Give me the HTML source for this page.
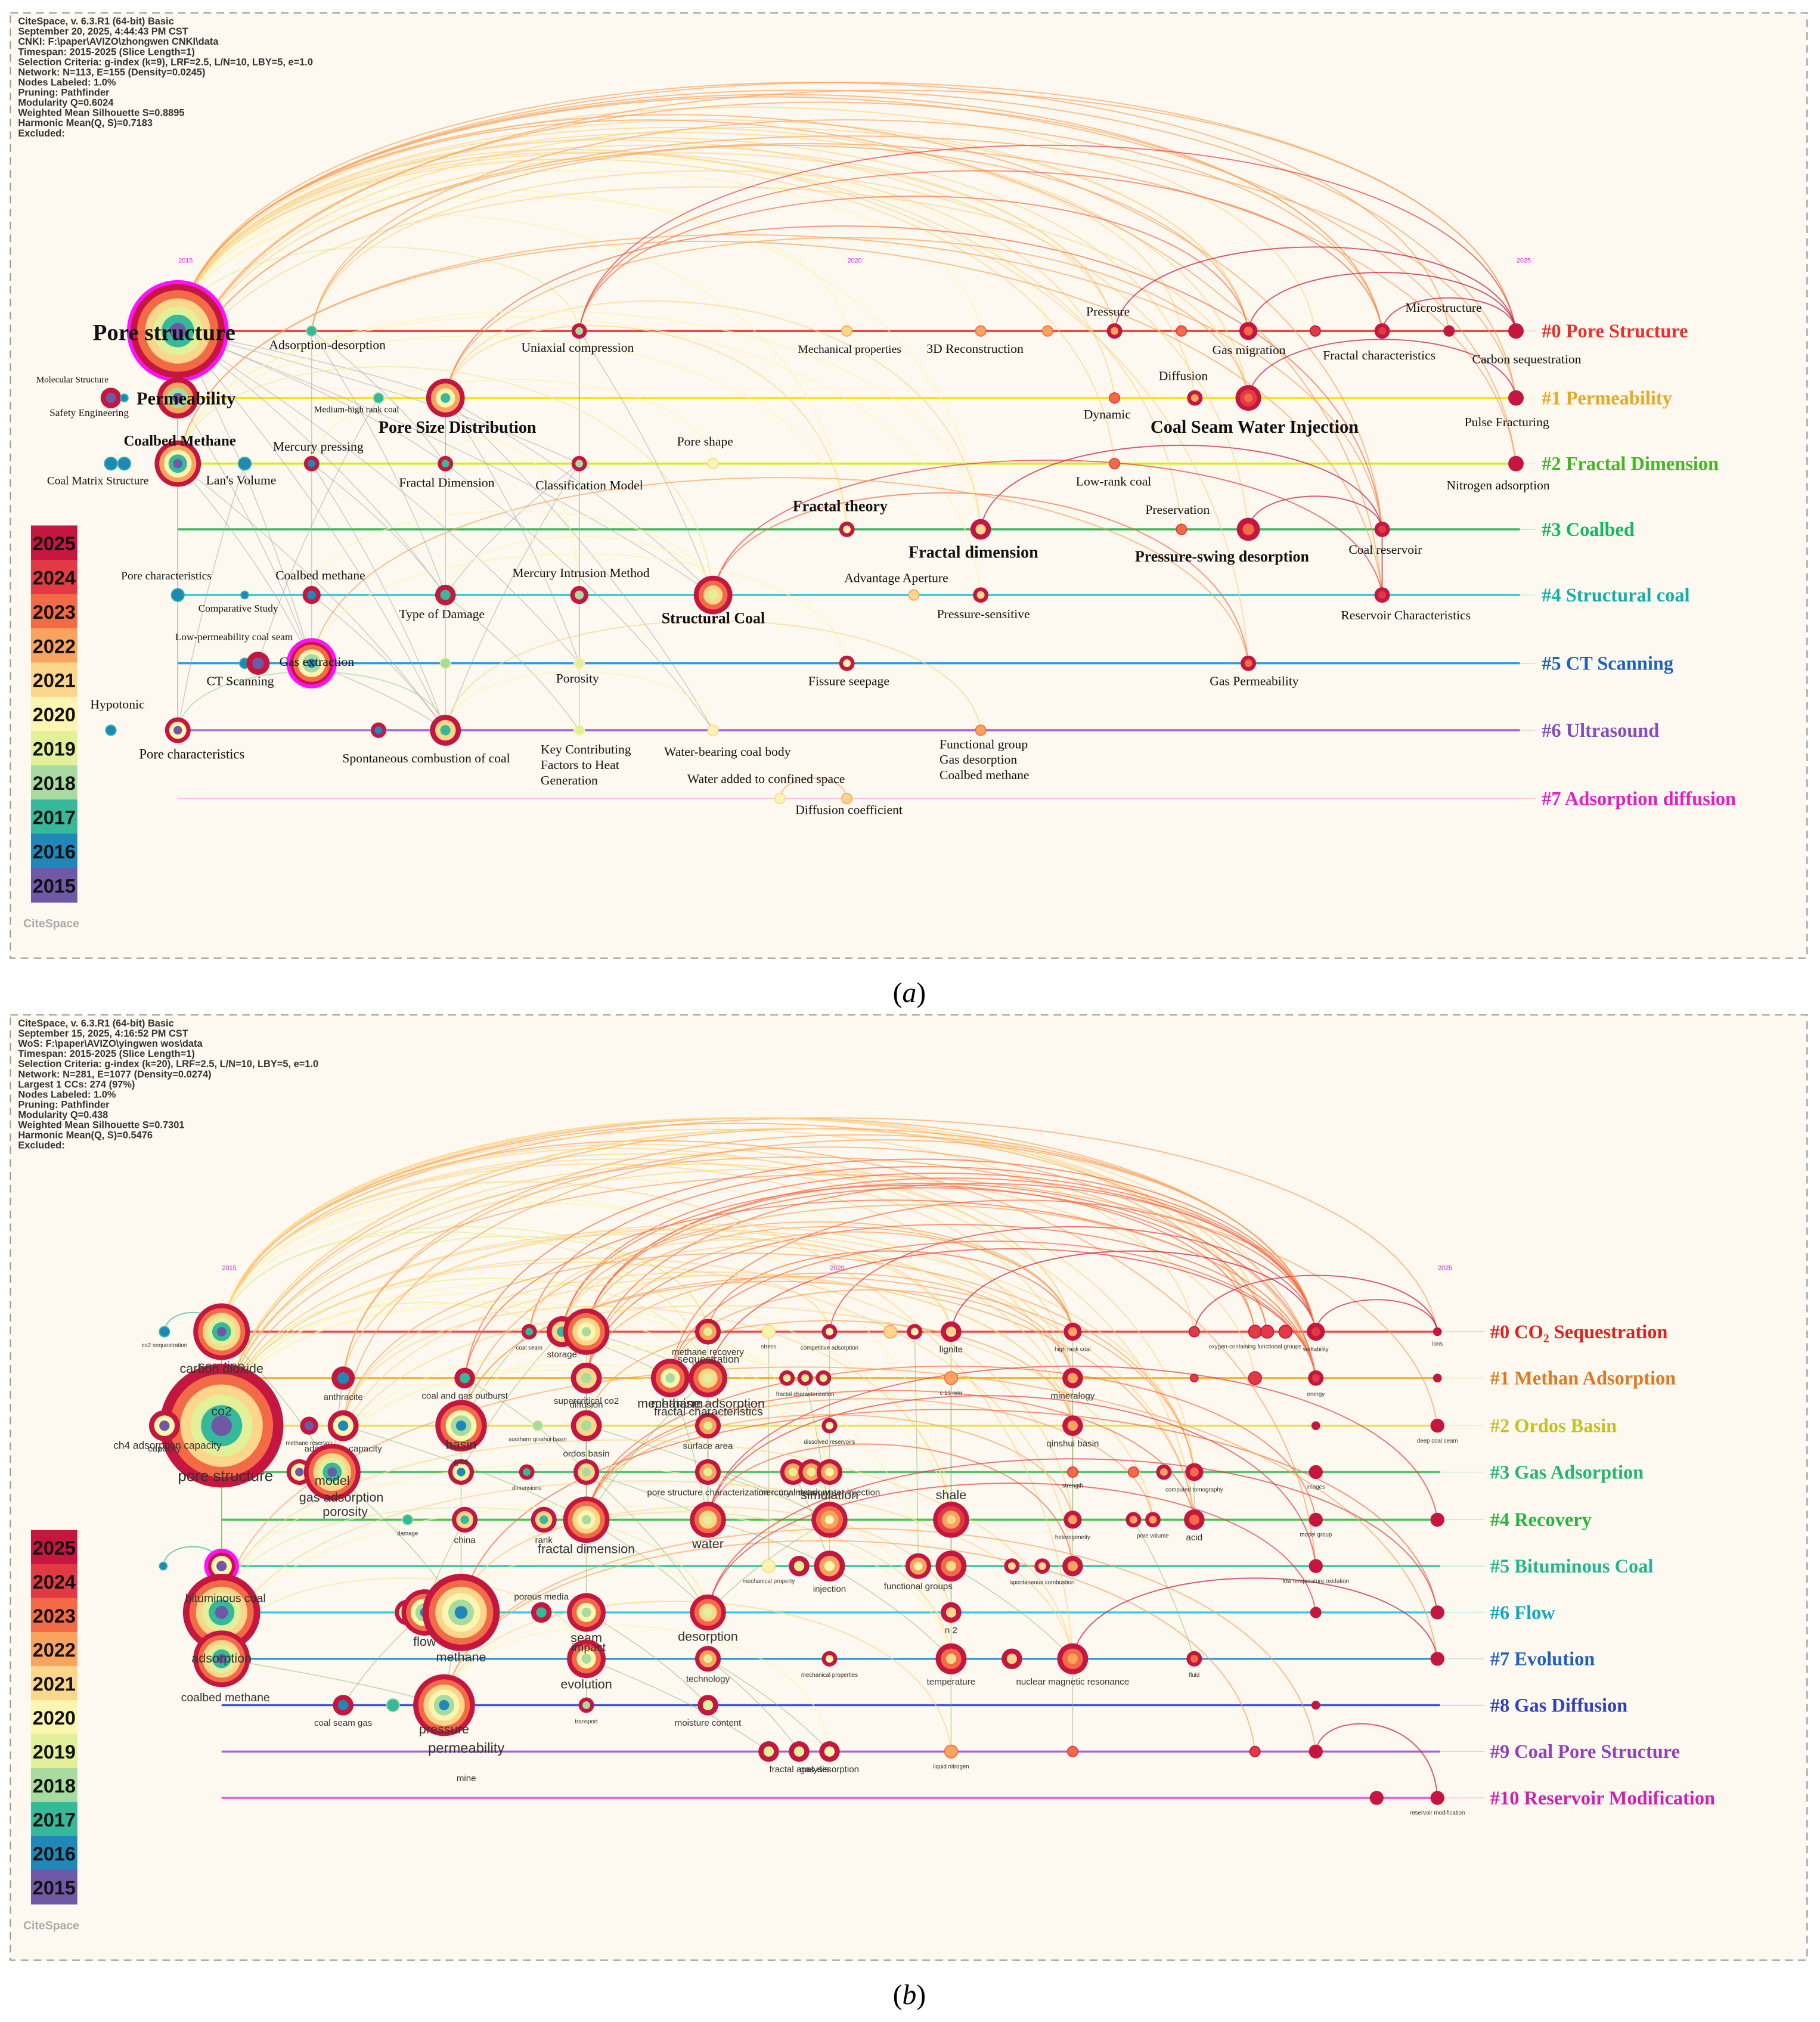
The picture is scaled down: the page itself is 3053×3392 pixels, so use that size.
<!DOCTYPE html>
<html><head><meta charset="utf-8"><style>
html,body{margin:0;padding:0;background:#fff;}
svg{display:block;}
</style></head><body>
<svg id="chart" width="3053" height="3392" viewBox="0 0 1413 1570" xmlns="http://www.w3.org/2000/svg">
<rect x="0" y="0" width="1413" height="1570" fill="#fff"/>
<g id="panelA">
<rect x="8" y="10" width="1395" height="734" fill="#fdf9f0" stroke="#999" stroke-dasharray="6,4" stroke-width="1"/>
</g>
<g id="panelB">
<rect x="8" y="788" width="1395" height="734" fill="#fdf9f0" stroke="#999" stroke-dasharray="6,4" stroke-width="1"/>
</g>
<text x="706" y="778" font-family="Liberation Serif, serif" font-size="22" text-anchor="middle">(<tspan font-style="italic">a</tspan>)</text>
<text x="706" y="1556" font-family="Liberation Serif, serif" font-size="22" text-anchor="middle">(<tspan font-style="italic">b</tspan>)</text>
</svg>
<script>
// ---------- shared data ----------
const legendYears = [2025,2024,2023,2022,2021,2020,2019,2018,2017,2016,2015];
const yearColors = ['#c4163f','#e23a44','#f36a46','#f9a45e','#fcd68a','#fef5b0','#e2f09a','#a8dba0','#35b99a','#1f88b8','#6f58a6'];
function yc(y){ const i = 2025 - Math.max(2015, Math.min(2025, y)); return yearColors[i]; }

// ---------- panel A data ----------
const aHeader = ['CiteSpace, v. 6.3.R1 (64-bit) Basic','September 20, 2025, 4:44:43 PM CST','CNKI: F:\\paper\\AVIZO\\zhongwen CNKI\\data','Timespan: 2015-2025 (Slice Length=1)','Selection Criteria: g-index (k=9), LRF=2.5, L/N=10, LBY=5, e=1.0','Network: N=113, E=155 (Density=0.0245)','Nodes Labeled: 1.0%','Pruning: Pathfinder','Modularity Q=0.6024','Weighted Mean Silhouette S=0.8895','Harmonic Mean(Q, S)=0.7183','Excluded:'];
const aClusters = ['#0 Pore Structure','#1 Permeability','#2 Fractal Dimension','#3 Coalbed','#4 Structural coal','#5 CT Scanning','#6 Ultrasound','#7 Adsorption diffusion'];
const aClusterColors = ['#e8302c','#e8a820','#40b820','#10b860','#10b0a8','#2060c0','#8050c0','#e020c0'];
const aLaneColors = ['#f03030','#f5e400','#d8e800','#22b14c','#18c8d0','#1c8ed8','#9b50d8','#ff60d0'];
// [lane, yearsSince2015, size, label, dx, dy, fontSize]
const aNodes = [
[0,0,38,'Pore structure',-66,7,18],[0,1,4,'Adsorption-desorption',-33,14,10],[0,3,6,'Uniaxial compression',-45,16,10],[0,5,4,'Mechanical properties',-38,17,9],[0,6,4,'3D Reconstruction',-42,17,10],[0,6.5,4,'',0,0,9],[0,7,6,'Pressure',-22,-12,10],[0,7.5,4,'',0,0,9],[0,8,7,'Gas migration',-28,18,10],[0,8.5,4,'',0,0,9],[0,9,6,'Fractal characteristics',-46,22,10],[0,9.5,4,'Microstructure',-34,-15,10],[0,10,6,'Carbon sequestration',-34,25,10],
[1,-0.5,8,'Molecular Structure',-58,-12,7],[1,-0.4,3,'Safety Engineering',-58,14,8],[1,0,16,'Permeability',-32,5,14],[1,1.5,4,'Medium-high rank coal',-50,11,7],[1,2,15,'Pore Size Distribution',-52,27,13],[1,7,4,'Dynamic',-24,16,10],[1,7.6,6,'Diffusion',-28,-14,10],[1,8,10,'Coal Seam Water Injection',-76,27,14],[1,10,6,'Pulse Fracturing',-40,22,10],
[2,-0.5,5,'',0,0,9],[2,-0.4,5,'Coal Matrix Structure',-60,16,9],[2,0,18,'Coalbed Methane',-42,-14,11.5],[2,0.5,5,"Lan's Volume",-30,16,10],[2,1,6,'Mercury pressing',-30,-10,10],[2,2,6,'Fractal Dimension',-36,18,10],[2,3,6,'Classification Model',-34,20,10],[2,4,4,'Pore shape',-28,-14,10],[2,7,4,'Low-rank coal',-30,17,10],[2,10,6,'Nitrogen adsorption',-54,20,10],
[3,5,6,'Fractal theory',-42,-14,12],[3,6,8,'Fractal dimension',-56,22,13],[3,7.5,4,'Preservation',-28,-12,10],[3,8,9,'Pressure-swing desorption',-88,25,12],[3,9,6,'Coal reservoir',-26,19,10],
[4,0,5,'Pore characteristics',-44,-12,9],[4,0.5,3,'Comparative Study',-36,13,8],[4,1,7,'Coalbed methane',-28,-12,10],[4,2,8,'Type of Damage',-36,18,10],[4,3,7,'Mercury Intrusion Method',-52,-14,10],[4,4,15,'Structural Coal',-40,22,12],[4,5.5,4,'Advantage Aperture',-54,-10,10],[4,6,6,'Pressure-sensitive',-34,18,10],[4,9,6,'Reservoir Characteristics',-32,19,10],
[5,0.5,4,'Low-permeability coal seam',-54,-18,8],[5,0.6,9,'CT Scanning',-40,17,10],[5,1,18,'Gas extraction',-25,2,10],[5,2,4,'',0,0,9],[5,3,4,'Porosity',-18,15,10],[5,5,6,'Fissure seepage',-30,17,10],[5,8,6,'Gas Permeability',-30,17,10],
[6,-0.5,4,'Hypotonic',-16,-17,10],[6,0,10,'Pore characteristics',-30,22,10.5],[6,1.5,6,'',0,0,9],[6,2,12,'Spontaneous combustion of coal',-80,25,10],[6,3,4,'Key Contributing|Factors to Heat|Generation',-30,18,10],[6,4,4,'Water-bearing coal body',-38,20,10],[6,6,4,'Functional group|Gas desorption|Coalbed methane',-32,14,10],
[7,4.5,4,'Water added to confined space',-72,-12,10],[7,5,4,'Diffusion coefficient',-40,12,10]
];
const aArcs = [[0,2],[0,3],[0,4],[0,5],[0,6],[0,7],[0,8],[0,9],[0,10],[0,11],[0,12],[0,18],[0,19],[0,20],[0,21],[0,30],[0,31],[0,32],[0,33],[0,34],[0,35],[0,36],[0,45],[0,52],[15,6],[15,8],[15,10],[15,12],[15,20],[15,21],[15,31],[17,20],[17,32],[17,33],[17,36],[24,32],[24,33],[24,42],[24,44],[24,36],[24,45],[1,6],[1,8],[1,10],[2,10],[2,12],[2,8],[33,36],[35,36],[42,45],[42,52],[48,51],[48,52],[56,59],[56,58],[54,56],[39,42],[40,42],[6,12],[8,12],[20,21],[10,12],[60,61],[26,29],[27,41],[36,45]];
const aLinks = [[0,15],[0,24],[0,17],[0,27],[0,28],[0,40],[0,42],[0,50],[0,56],[0,48],[15,24],[15,37],[15,48],[24,54],[24,56],[17,42],[17,50],[17,58],[1,40],[1,48],[2,42],[2,57],[26,56],[27,58],[28,56],[39,56],[40,57],[37,54],[25,54],[48,56],[54,55],[17,27],[2,28],[0,54],[15,54],[24,48],[17,56],[2,50],[26,40],[1,27],[16,47],[28,40]];
const aLaneY = [257,309,360,411,462,515,567,620];
function xa(t){ return 138 + t*103.9; }

// ---------- panel B data ----------
const bHeader = ['CiteSpace, v. 6.3.R1 (64-bit) Basic','September 15, 2025, 4:16:52 PM CST','WoS: F:\\paper\\AVIZO\\yingwen wos\\data','Timespan: 2015-2025 (Slice Length=1)','Selection Criteria: g-index (k=20), LRF=2.5, L/N=10, LBY=5, e=1.0','Network: N=281, E=1077 (Density=0.0274)','Largest 1 CCs: 274 (97%)','Nodes Labeled: 1.0%','Pruning: Pathfinder','Modularity Q=0.438','Weighted Mean Silhouette S=0.7301','Harmonic Mean(Q, S)=0.5476','Excluded:'];
const bClusters = ['#0 CO\u2082 Sequestration','#1 Methan Adsorption','#2 Ordos Basin','#3 Gas Adsorption','#4 Recovery','#5 Bituminous Coal','#6 Flow','#7 Evolution','#8 Gas Diffusion','#9 Coal Pore Structure','#10 Reservoir Modification'];
const bClusterColors = ['#e02020','#e07820','#c8c020','#20b870','#20b840','#20b890','#10a8c0','#2060c0','#3040c0','#9040c0','#d020b0'];
const bLaneColors = ['#f03838','#f0b020','#e8e030','#40c060','#30c040','#20c0a0','#20c8e0','#2090d0','#3040d0','#a050d0','#f040d0'];
// [lane, yearsSince2015, size, label, labelDy(optional)]
const bNodes = [
[0,0,22,'sorption'],[0,-0.47,4,'co2 sequestration'],[0,2.53,6,'coal seam'],[0,2.8,12,'storage'],[0,3,18,''],[0,4,10,'methane recovery'],[0,4.5,5,'stress'],[0,5,6,'competitive adsorption'],[0,5.5,5,''],[0,5.7,6,''],[0,6,8,'lignite'],[0,7,7,'high rank coal'],[0,8,4,''],[0,8.5,5,'oxygen-containing functional groups'],[0,8.6,5,''],[0,8.75,5,''],[0,9,7,'wettability'],[0,10,3,'ions'],
[1,1,9,'anthracite'],[1,2,8,'coal and gas outburst'],[1,3,12,'supercritical co2'],[1,3.69,15,'mechanism'],[1,4,15,'methane adsorption'],[1,4.65,6,''],[1,4.8,6,'fractal characterization'],[1,4.95,6,''],[1,6,5,'c 13 nmr'],[1,7,8,'mineralogy'],[1,8,3,''],[1,8.5,5,''],[1,9,6,'energy'],[1,10,3,''],
[2,0,48,'co2',-8],[2,-0.47,12,'capacity'],[2,0.72,7,'methane reservoir'],[2,1,12,'adsorption capacity'],[2,1.97,20,'basin',18],[2,2.6,4,'southern qinshui basin'],[2,3,12,'diffusion',-14],[2,4,10,'surface area'],[2,5,6,'dissolved reservoirs'],[2,7,8,'qinshui basin'],[2,9,3,''],[2,10,5,'deep coal seam'],
[3,0.64,10,''],[3,0.91,22,'model',10],[3,1.97,10,'gas',-6],[3,2.51,6,'dimensions'],[3,3,10,'ordos basin',-12],[3,4,10,'pore structure characterization'],[3,4.7,10,'mercury intrusion'],[3,4.85,10,''],[3,5,10,'coal seam water injection'],[3,7,4,'strength'],[3,7.5,4,''],[3,7.75,6,''],[3,8,7,'computed tomography'],[3,9,5,'images'],
[4,1.53,4,'damage'],[4,2,10,'china'],[4,2.65,10,'rank'],[4,3,18,'fractal dimension'],[4,4,14,'water'],[4,5,14,'simulation',-16],[4,6,14,'shale',-16],[4,7,7,'heterogeneity'],[4,7.5,6,''],[4,7.66,6,'pore volume'],[4,8,8,'acid'],[4,9,5,'model group'],[4,10,5,''],
[5,-0.48,3,''],[5,0,12,'behavior'],[5,4.5,5,'mechanical property'],[5,4.75,8,''],[5,5,12,'injection'],[5,5.73,10,'functional groups'],[5,6,12,''],[5,6.5,6,''],[5,6.75,6,'spontaneous combustion'],[5,7,8,''],[5,9,5,'low temperature oxidation'],
[6,0,30,''],[6,1.53,10,''],[6,1.67,18,'flow'],[6,1.97,30,'methane'],[6,2.63,8,'porous media',-10],[6,3,15,'seam'],[6,4,14,'desorption'],[6,6,8,'n 2'],[6,9,4,''],[6,10,5,''],
[7,0,22,'adsorption',3],[7,3,15,'evolution'],[7,4,10,'technology'],[7,5,6,'mechanical properties'],[7,6,12,'temperature'],[7,6.5,8,''],[7,7,12,'nuclear magnetic resonance'],[7,8,6,'fluid'],[7,10,5,''],
[8,1,8,'coal seam gas'],[8,1.41,5,''],[8,1.83,24,'pressure',22],[8,3,6,'transport'],[8,4,8,'moisture content'],[8,9,3,''],
[9,4.5,8,''],[9,4.75,8,'fractal analysis'],[9,5,8,'gas desorption'],[9,6,5,'liquid nitrogen'],[9,7,4,''],[9,8.5,4,''],[9,9,5,''],
[10,9.5,5,''],[10,10,5,'reservoir modification']
];
const bExtraLabels = [['carbon dioxide',172,1066,10],['pore structure',175,1150,12],['ch4 adsorption capacity',130,1125,8],['gas adsorption',265,1166,10],['porosity',268,1177,10],['bituminous coal',175,1244,9],['coalbed methane',175,1321,9],['permeability',362,1361,11],['mine',362,1383,7],['impact',457,1282,9],['fractal characteristics',550,1099,9],['sequestration',550,1058,8]];
const bArcs = [[0,5],[0,7],[0,10],[0,11],[0,13],[0,16],[0,17],[0,22],[0,27],[0,30],[0,41],[0,56],[0,64],[0,68],[0,81],[0,98],[0,14],[0,15],[0,12],[32,5],[32,11],[32,16],[32,20],[32,22],[32,30],[32,43],[32,52],[32,56],[32,63],[32,64],[32,65],[32,68],[32,80],[32,96],[32,13],[32,14],[32,29],[3,10],[3,11],[3,16],[3,13],[4,7],[4,11],[4,16],[4,30],[4,14],[20,27],[20,30],[20,16],[21,27],[21,16],[35,41],[35,56],[35,64],[45,52],[45,63],[45,64],[45,67],[36,52],[36,56],[36,68],[61,65],[61,67],[61,68],[61,69],[62,80],[62,81],[62,70],[85,88],[85,89],[85,91],[85,96],[82,88],[82,96],[82,98],[82,100],[92,93],[92,96],[92,98],[103,109],[103,110],[103,112],[103,113],[88,90],[88,91],[98,100],[113,115],[12,17],[16,17],[18,27],[18,41],[19,30],[22,30],[10,16],[7,16],[5,11],[1,0],[33,32],[71,72],[2,10],[2,16],[18,16],[19,16],[18,13],[35,16],[36,30],[45,41],[38,41],[20,11],[21,30]];
const bLinks = [[0,32],[0,45],[0,82],[32,72],[32,92],[3,21],[4,22],[20,61],[21,62],[22,61],[36,85],[38,87],[45,85],[59,84],[61,88],[62,75],[63,88],[64,96],[35,61],[18,45],[19,48],[48,62],[49,63],[52,75],[88,94],[93,104],[85,103],[84,101],[87,105],[94,109],[75,96],[64,89],[77,98],[5,49],[39,62],[6,73],[7,52],[10,64],[11,65],[27,53],[20,48],[3,46],[2,36],[72,82],[82,92],[92,103],[4,61],[22,62],[38,63],[48,88],[50,75],[24,63],[9,76],[26,77],[41,80],[56,68],[66,99],[87,93],[93,107],[94,108],[96,110],[98,111]];
const bLaneY = [1034,1070,1107,1143,1180,1216,1252,1288,1324,1360,1396];
function xb(t){ return 172 + t*94.4; }

// ---------- drawing ----------
const NS = 'http://www.w3.org/2000/svg';
const svg = document.getElementById('chart');
function mk(tag, attrs, parent){ const e = document.createElementNS(NS, tag); for (const k in attrs) e.setAttribute(k, attrs[k]); (parent||svg).appendChild(e); return e; }

function drawPanel(cfg){
  const g = mk('g', {});
  
  
  cfg.header.forEach((line, i) => {
    const t = mk('text', {x: 14, y: cfg.top + 9 + i*7.9, 'font-family': 'Liberation Sans, sans-serif', 'font-size': 7.6, 'font-weight': 'bold', fill: '#333'}, g);
    t.textContent = line;
    
    
  });
  [[0,'2015'],[5,'2020'],[10,'2025']].forEach(p => {
    const t = mk('text', {x: cfg.xs(p[0]) + 6, y: cfg.tickY, 'font-family': 'Liberation Sans, sans-serif', 'font-size': 5, fill: '#e020e0', 'text-anchor': 'middle'}, g);
    t.textContent = p[1];
    
    
  });
  cfg.laneY.forEach((y, i) => {
    const fade = i===cfg.laneY.length-1 && cfg.fadeLast;
    const l = mk('line', {x1: cfg.xs(0), y1: y, x2: cfg.laneEnd, y2: y, stroke: cfg.laneColors[i], 'stroke-width': fade ? 0.6 : 1.6, opacity: fade ? 0.4 : 0.9}, g);
    
    
    const l2 = mk('line', {x1: cfg.laneEnd, y1: y, x2: cfg.labelX - 5, y2: y, stroke: cfg.laneColors[i], 'stroke-width': 0.6, opacity: 0.3}, g);
    
    
    const t = mk('text', {x: cfg.labelX, y: y + 5, 'font-family': 'Liberation Serif, serif', 'font-size': 15, 'font-weight': 'bold', fill: cfg.clusterColors[i]}, g);
    t.textContent = cfg.clusters[i];
    
    
  });
  const pos = cfg.nodes.map(n => [cfg.xs(n[1]), cfg.laneY[n[0]]]);
  cfg.links.forEach(p => {
    const a = pos[p[0]], b = pos[p[1]];
    const l = mk('path', {d: `M${a[0]},${a[1]} Q${(a[0]+b[0])/2 + (b[0]-a[0])*0.15},${(a[1]+b[1])/2} ${b[0]},${b[1]}`, fill: 'none', stroke: cfg.linkColor, 'stroke-width': 0.7, opacity: 0.55}, g);
    
    
  });
  cfg.arcs.forEach(p => {
    let a = pos[p[0]], b = pos[p[1]];
    if (a[0] > b[0]) { const tmp = a; a = b; b = tmp; }
    const dx = b[0] - a[0];
    const topY = Math.min(a[1], b[1]);
    let peak = topY - (dx*cfg.arcK + 6);
    if (peak < cfg.minPeak) peak = cfg.minPeak;
    const h = (topY - peak) / 0.75;
    const t0 = cfg.nodes[p[0]][1], t1 = cfg.nodes[p[1]][1];
    const col = yc(2015 + Math.round((Math.max(0,t0) + Math.max(0,t1)) / 2 + 2));
    const path = mk('path', {d: `M${a[0]},${a[1]} C${a[0]+dx*0.04},${topY-h} ${b[0]-dx*0.04},${topY-h} ${b[0]},${b[1]}`, fill: 'none', stroke: col, 'stroke-width': 0.9, opacity: 0.7}, g);
    
    
  });
  cfg.nodes.forEach((n, i) => {
    const [x, y] = pos[i];
    const r = n[2];
    const start = 2015 + Math.floor(Math.max(0, n[1]));
    const ng = mk('g', {}, g);
    
    
    if (r <= 5) {
      mk('circle', {cx: x, cy: y, r: r, fill: yc(start + 1), stroke: yc(start + 2), 'stroke-width': 0.8}, ng);
    } else {
      const rings = Math.min(6, Math.max(2, Math.round(r/4)));
      for (let k = 0; k < rings; k++) {
        const rr = r * (1 - k/rings);
        const yr = 2025 - Math.round(k * (2025 - start) / Math.max(1, rings-1));
        mk('circle', {cx: x, cy: y, r: rr, fill: yc(yr)}, ng);
      }
      if (cfg.magenta && cfg.magenta.includes(i)) mk('circle', {cx: x, cy: y, r: r, fill: 'none', stroke: '#ff10ff', 'stroke-width': 3}, ng);
    }
    if (n[3]) {
      const lines = n[3].split('|');
      lines.forEach((ln, j) => {
        let t;
        if (cfg.name === 'panel-a') {
          t = mk('text', {x: x + n[4], y: y + n[5] + j*12, 'font-family': 'Liberation Serif, serif', 'font-size': n[6], 'font-weight': n[6] >= 11.5 ? 'bold' : 'normal', fill: '#111'}, g);
        } else {
          const dy = n[4] !== undefined ? n[4] : r + 8;
          const fs = r >= 14 ? 10 : (r >= 8 ? 7 : 4.5);
          t = mk('text', {x: x, y: y + dy, 'font-family': 'Liberation Sans, sans-serif', 'font-size': fs, fill: '#333', 'text-anchor': 'middle'}, g);
        }
        t.textContent = ln;
        
        
      });
    }
  });
  legendYears.forEach((yr, i) => {
    const y = cfg.legTop + i*cfg.legH;
    const r = mk('rect', {x: 24, y: y, width: 36, height: cfg.legH + 0.3, fill: yearColors[i]}, g);
    
    
    const t = mk('text', {x: 42, y: y + cfg.legH*0.72, 'font-family': 'Liberation Sans, sans-serif', 'font-size': 15, 'font-weight': 'bold', fill: '#111', 'text-anchor': 'middle'}, g);
    t.textContent = yr;
    
    
  });
  const logo = mk('text', {x: 18, y: cfg.logoY, 'font-family': 'Liberation Sans, sans-serif', 'font-size': 9, 'font-weight': 'bold', fill: '#aaa'}, g);
  logo.textContent = 'CiteSpace';
  
  
  return g;
}

drawPanel({name: 'panel-a', header: aHeader, top: 10, xs: xa, tickY: 204, laneY: aLaneY, laneColors: aLaneColors, clusters: aClusters, clusterColors: aClusterColors, laneEnd: 1180, labelX: 1197, nodes: aNodes, arcs: aArcs, links: aLinks, linkColor: '#a8a8a8', legTop: 408, legH: 26.6, logoY: 720, magenta: [0, 48], fadeLast: true, arcK: 0.19, minPeak: 64});
const gb = drawPanel({name: 'panel-b', header: bHeader, top: 788, xs: xb, tickY: 986, laneY: bLaneY, laneColors: bLaneColors, clusters: bClusters, clusterColors: bClusterColors, laneEnd: 1118, labelX: 1157, nodes: bNodes, arcs: bArcs, links: bLinks, linkColor: '#88b868', legTop: 1188, legH: 26.4, logoY: 1498, magenta: [72], fadeLast: false, arcK: 0.2, minPeak: 868});
bExtraLabels.forEach(l => {
  const t = mk('text', {x: l[1], y: l[2], 'font-family': 'Liberation Sans, sans-serif', 'font-size': l[3], fill: '#333', 'text-anchor': 'middle'}, gb);
  t.textContent = l[0];
  
  
});
</script>
</body></html>
